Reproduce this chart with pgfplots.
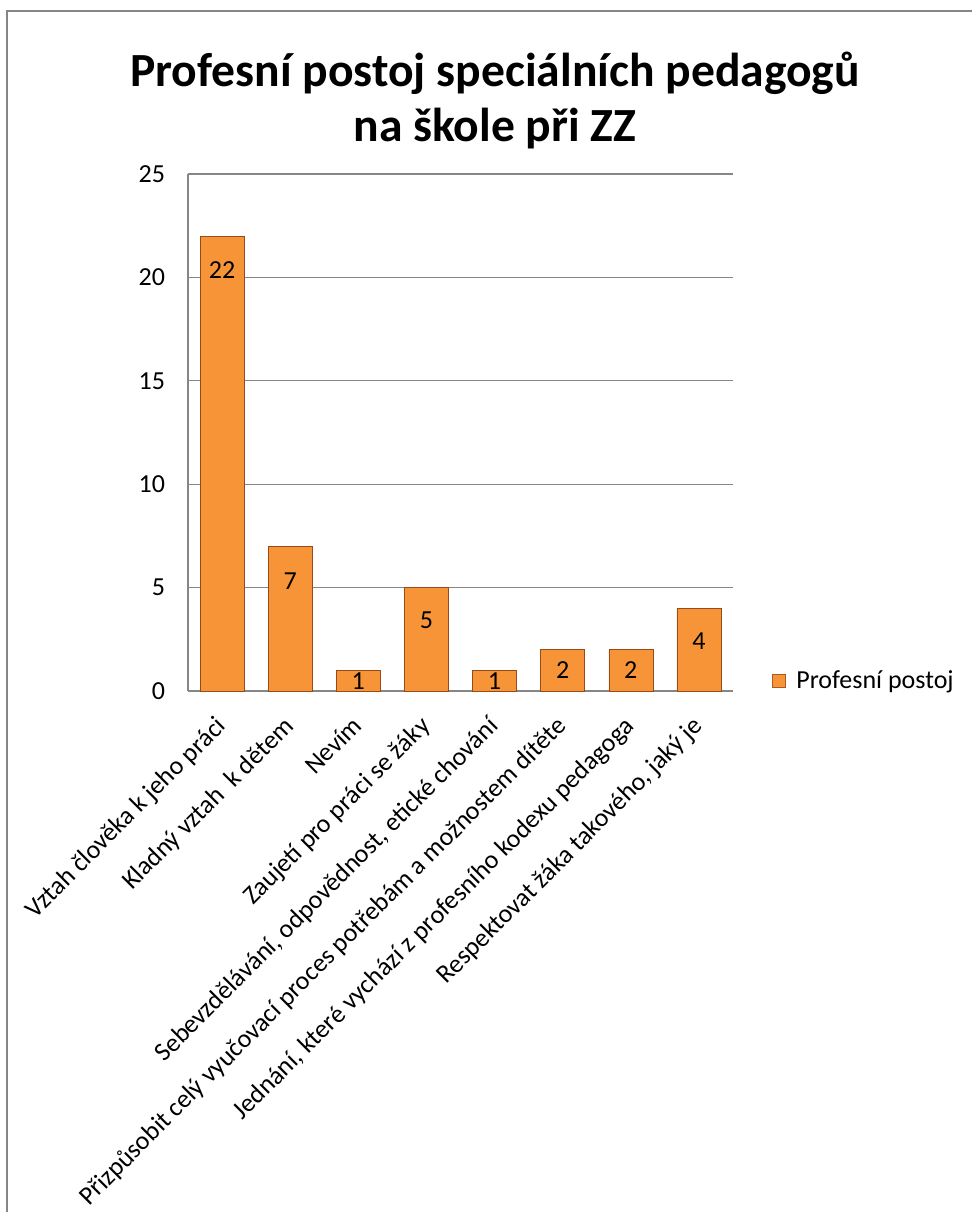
\documentclass[border=0pt]{standalone}
\usepackage{pgfplots}
\pgfplotsset{compat=1.18}
\usepackage{fontspec}
\setmainfont{Carlito}
\definecolor{gridc}{RGB}{134,134,134}
\definecolor{bardk}{RGB}{176,88,28}
\definecolor{barmd}{RGB}{248,148,56}
\pgfdeclarehorizontalshading{barshade}{100bp}{color(0bp)=(bardk); color(13bp)=(barmd); color(87bp)=(barmd); color(100bp)=(bardk)}
\begin{document}
\begin{tikzpicture}
\path[use as bounding box] (-94pt,-260.5pt) rectangle (391.5pt,345.5pt);
\draw[gridc, line width=1pt] (-90.5pt,-262pt) -- (-90.5pt,340pt) -- (393pt,340pt);
\begin{axis}[
  at={(0pt,0pt)}, anchor=south west,
  scale only axis, width=272.5pt, height=258.5pt,
  xmin=-0.5, xmax=7.5, ymin=0, ymax=25,
  ytick={0,5,...,25},
  xtick={0,...,7},
  xticklabels={Vztah člověka k jeho práci, Kladný vztah\ \ k dětem, Nevím, Zaujetí pro práci se žáky, {Sebevzdělávání, odpovědnost, etické chování}, Přizpůsobit celý vyučovací proces potřebám a možnostem dítěte, {Jednání, které vychází z profesního kodexu pedagoga}, {Respektovat žáka takového, jaký je}},
  xticklabel style={rotate=45, anchor=north east, inner sep=1pt, text height=10.5pt, text depth=3pt, xshift=-10pt, yshift=-3pt, font=\fontsize{13}{15}\selectfont},
  major tick length=0pt,
  ymajorgrids, grid style={gridc, line width=0.6pt},
  axis x line*=bottom, axis y line*=left,
  axis line style={gridc, line width=0.6pt},
  every axis line/.append style={-},
  yticklabel style={xshift=-8pt, font=\fontsize{13}{15}\selectfont},
  /pgf/number format/assume math mode=true,
  legend style={at={(1.071,0.02)}, anchor=west, draw=none, font=\fontsize{13}{15}\selectfont, inner sep=0pt},
  legend image code/.code={\path[draw=none] (0pt,0pt) -- (10pt,0pt); \shade[shading=barshade, draw=bardk] (0pt,-3.2pt) rectangle (6.5pt,3.2pt);},
  clip=false,
]
\addplot[ybar, bar width=22pt, shade, shading=barshade, draw=bardk!85!black, line width=0.3pt] coordinates {(0,22) (1,7) (2,1) (3,5) (4,1) (5,2) (6,2) (7,4)};
\addlegendentry{Profesní postoj}
\addplot[draw=none, mark=none, nodes near coords, point meta=explicit symbolic, every node near coord/.append style={anchor=center, font=\fontsize{13}{15}\selectfont}, forget plot] coordinates {(0,20.36)[22] (1,5.3)[7] (2,0.47)[1] (3,3.4)[5] (4,0.47)[1] (5,1.0)[2] (6,1.0)[2] (7,2.4)[4]};
\end{axis}
\node[font=\fontsize{23.8}{27.5}\selectfont\bfseries, align=center] at (153.5pt,295.5pt) {Profesní postoj speciálních pedagogů\\na škole při ZZ};
\end{tikzpicture}
\end{document}
